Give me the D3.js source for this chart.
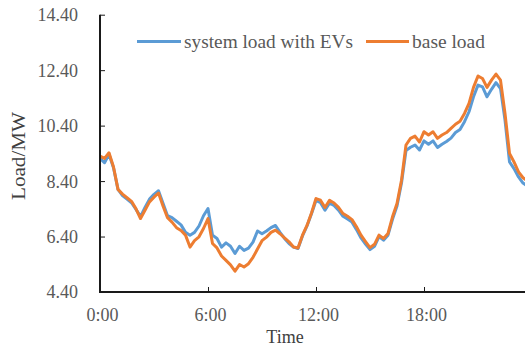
<!DOCTYPE html>
<html><head><meta charset="utf-8">
<script src="https://cdn.jsdelivr.net/npm/d3@7"></script>
<style>
html,body{margin:0;padding:0;background:#fff;}
svg{display:block;font-family:"Liberation Serif","Times New Roman",serif;}
</style></head>
<body>
<svg id="chart" width="525" height="350"></svg>
<script>
// 15-minute samples, 0:00 .. 23:45
const seriesNames = ["system load with EVs", "base load"];
const xTickLabels = ["0:00", "6:00", "12:00", "18:00"];
const xTickIndex = [0, 24, 48, 72];
const yTicks = [4.40, 6.40, 8.40, 10.40, 12.40, 14.40];

const evLoad = [
  9.22, 9.06, 9.37, 8.88, 8.10, 7.88, 7.75, 7.62, 7.38, 7.12, 7.45, 7.75,
  7.92, 8.05, 7.60, 7.15, 7.08, 6.95, 6.82, 6.55, 6.45, 6.55, 6.78, 7.15,
  7.41, 6.45, 6.33, 6.02, 6.17, 6.05, 5.79, 6.05, 5.90, 5.98, 6.20, 6.60,
  6.50, 6.60, 6.72, 6.80, 6.55, 6.33, 6.15, 6.02, 5.97, 6.42, 6.78, 7.22,
  7.70, 7.62, 7.35, 7.60, 7.52, 7.35, 7.13, 7.03, 6.92, 6.65, 6.35, 6.13,
  5.93, 6.05, 6.40, 6.27, 6.45, 7.02, 7.50, 8.33, 9.50, 9.62, 9.70, 9.52,
  9.85, 9.73, 9.85, 9.61, 9.73, 9.83, 9.95, 10.15, 10.26, 10.54, 10.90, 11.44,
  11.86, 11.80, 11.44, 11.71, 11.95, 11.74, 10.60, 9.09, 8.85, 8.55, 8.33, 8.22
];
const baseLoad = [
  9.30, 9.22, 9.42, 8.91, 8.10, 7.93, 7.80, 7.67, 7.40, 7.05, 7.35, 7.65,
  7.82, 7.97, 7.50, 7.08, 6.92, 6.72, 6.62, 6.45, 6.02, 6.25, 6.39, 6.69,
  7.05, 6.15, 5.99, 5.70, 5.54, 5.38, 5.15, 5.39, 5.30, 5.42, 5.65, 5.95,
  6.25, 6.38, 6.55, 6.63, 6.50, 6.35, 6.21, 6.02, 5.99, 6.45, 6.80, 7.25,
  7.77, 7.71, 7.45, 7.71, 7.61, 7.45, 7.23, 7.13, 7.01, 6.75, 6.45, 6.22,
  6.00, 6.12, 6.45, 6.33, 6.51, 7.11, 7.59, 8.43, 9.70, 9.94, 10.02, 9.81,
  10.18, 10.06, 10.18, 9.94, 10.06, 10.15, 10.30, 10.45, 10.56, 10.84, 11.20, 11.78,
  12.19, 12.10, 11.78, 12.04, 12.26, 12.04, 10.84, 9.40, 9.09, 8.73, 8.52, 8.40
];
const colors = ["#5B9BD5", "#ED7D31"];

const svg = d3.select("#chart");
const x = d3.scaleLinear().domain([0, 96]).range([100, 532]);
const y = d3.scaleLinear().domain([4.4, 14.4]).range([292, 14.7]);

// series lines
const line = d3.line().x((d, i) => x(i)).y(d => y(d));
[evLoad, baseLoad].forEach((s, k) => {
  svg.append("path").datum(s)
    .attr("fill", "none").attr("stroke", colors[k])
    .attr("stroke-width", 3).attr("stroke-linejoin", "round")
    .attr("d", line);
});

// y axis
const yAxis = d3.axisLeft(y).tickValues(yTicks).tickSize(-5).tickFormat(d3.format(".2f")).tickPadding(22);
const gy = svg.append("g").attr("transform", "translate(100,0)").call(yAxis);
gy.select(".domain").attr("stroke", "#1a1a1a").attr("stroke-width", 2).attr("d", `M0,${y(14.4)}V${y(4.4)}`);
gy.selectAll(".tick line").attr("stroke", "#1a1a1a");
gy.selectAll(".tick text").attr("font-size", 18).attr("fill", "#595959")
  .attr("font-family", "Liberation Serif").attr("x", -22).attr("dy", "0.33em");

// x axis
const xAxis = d3.axisBottom(x).tickValues(xTickIndex).tickSize(-5)
  .tickFormat((d, i) => xTickLabels[i]);
const gx = svg.append("g").attr("transform", `translate(0,${y(4.4)})`).call(xAxis);
gx.select(".domain").attr("stroke", "#1a1a1a").attr("stroke-width", 2).attr("d", `M99,0H525`);
gx.selectAll(".tick line").attr("stroke", "#1a1a1a");
gx.selectAll(".tick text").attr("font-size", 18).attr("fill", "#595959")
  .attr("font-family", "Liberation Serif").attr("dx", 2).attr("y", 29).attr("dy", 0);

// axis titles
svg.append("text").attr("x", 285).attr("y", 343).attr("text-anchor", "middle")
  .attr("font-size", 18).attr("fill", "#404040").text("Time");
svg.append("text").attr("transform", "translate(25,156) rotate(-90)")
  .attr("text-anchor", "middle").attr("font-size", 19).attr("fill", "#404040")
  .attr("textLength", 88).attr("lengthAdjust", "spacingAndGlyphs").text("Load/MW");

// legend
const legendPos = [{x1: 137, x2: 181, tx: 184, w: 169}, {x1: 366, x2: 409, tx: 412, w: 73}];
seriesNames.forEach((n, k) => {
  const p = legendPos[k];
  svg.append("line").attr("x1", p.x1).attr("x2", p.x2).attr("y1", 41.5).attr("y2", 41.5)
    .attr("stroke", colors[k]).attr("stroke-width", 3);
  svg.append("text").attr("x", p.tx).attr("y", 47.5).attr("font-size", 19)
    .attr("fill", "#595959").attr("textLength", p.w).attr("lengthAdjust", "spacingAndGlyphs").text(n);
});
</script>
</body></html>
